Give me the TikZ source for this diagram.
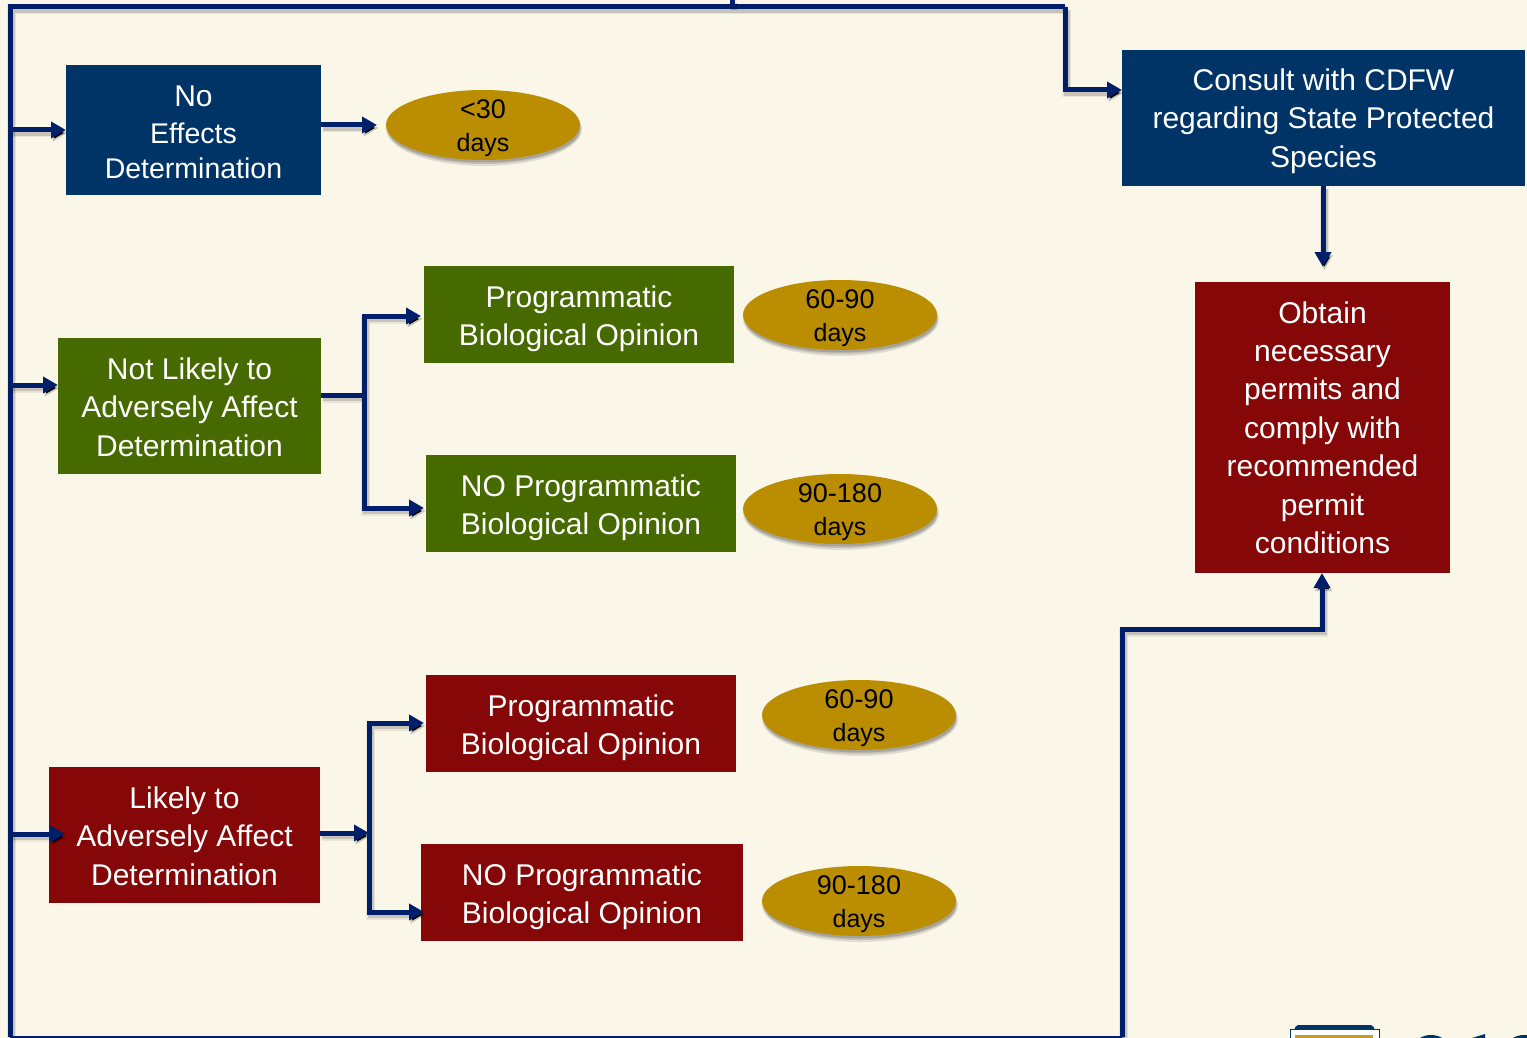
\documentclass[tikz,border=0pt]{standalone}
\usepackage{fontspec}
\setmainfont{Liberation Sans}
\usetikzlibrary{arrows.meta,shapes.geometric}
\definecolor{bgc}{HTML}{FAF6E8}
\definecolor{navyb}{HTML}{003366}
\definecolor{greenb}{HTML}{476A00}
\definecolor{redb}{HTML}{860707}
\definecolor{goldb}{HTML}{BA8E00}
\definecolor{linec}{HTML}{001F6B}
\newcommand{\firstdrop}[1]{\rule{0pt}{#1}}
\newcommand{\ovalbox}[5]{%
  \fill[black,fill opacity=.10] (#2+1,#3+4) ellipse [x radius=98,y radius=37];
  \fill[black,fill opacity=.12] (#2+1,#3+4) ellipse [x radius=97,y radius=35];
  \fill[black,fill opacity=.15] (#2+1,#3+4) ellipse [x radius=96,y radius=33.5];
  \node[oval,label={[ovaltext,yshift=-3.5pt]center:{\fontsize{27}{33}\selectfont #4}\\#5}] (#1) at (#2,#3) {};
}
\tikzset{
  x=1pt,y=-1pt,
  box/.style={rectangle,inner sep=0pt,outer sep=0pt,anchor=north west,text=white,align=center,font=\fontsize{30}{38.4}\selectfont},
  navybox/.style={box,fill=navyb},
  greenbox/.style={box,fill=greenb},
  redbox/.style={box,fill=redb},
  oval/.style={ellipse,fill=goldb,minimum width=194pt,minimum height=70pt,inner sep=0pt},
  ovaltext/.style={inner sep=0pt,align=center,text=black,font=\fontsize{25}{33}\selectfont},
  conn/.style={draw=linec,line width=5pt,line join=miter,
    preaction={draw=black,draw opacity=.07,line width=9pt,transform canvas={xshift=1.5pt,yshift=-3pt}},
    preaction={draw=black,draw opacity=.14,line width=6pt,transform canvas={xshift=1.5pt,yshift=-3pt}}},
  arr/.style={conn,-{Triangle[length=15pt,width=16pt]}},
}
\begin{document}
\begin{tikzpicture}
\useasboundingbox (0,0) rectangle (1527,1038);
\fill[bgc] (0,0) rectangle (1527,1038);
\coordinate (tl) at (10,7);
\coordinate (tm) at (732,7);
\coordinate (tmt) at (732,0);
\coordinate (tr) at (1065,7);
\coordinate (tr2) at (1065,90);
\coordinate (bl) at (10,1037);
\coordinate (br) at (1122,1037);
\coordinate (br2) at (1122,629);
\coordinate (br3) at (1322,629);
\coordinate (tee1) at (10,130);
\coordinate (tee2) at (10,385);
\coordinate (tee3) at (10,834);
\coordinate (tee3e) at (65,834);
\coordinate (b1) at (364,395);
\coordinate (b1a) at (364,316);
\coordinate (b1ae) at (421,316);
\coordinate (b1b) at (364,508);
\coordinate (b1be) at (424,508);
\coordinate (b2) at (369,833);
\coordinate (b2a) at (369,723);
\coordinate (b2ae) at (424,723);
\coordinate (b2b) at (369,912);
\coordinate (b2be) at (424,912);
% connectors
\draw[conn] (bl) -- (tl) -- (tr);
\draw[conn] (tm) -- (tmt);
\draw[conn,line width=3pt] (bl) -- (br);
\node[navybox,minimum width=255pt,minimum height=130pt] (ne) at (66,65) {\firstdrop{25pt}No\\[-1pt]{\fontsize{28.5}{36}\selectfont Effects}\\[-4pt]{\fontsize{28.5}{36}\selectfont Determination}};
\node[greenbox,minimum width=263pt,minimum height=136pt] (nl) at (58,338) {\firstdrop{24pt}Not Likely to\\Adversely Affect\\Determination};
\node[redbox,minimum width=271pt,minimum height=136pt] (ll) at (49,767) {\firstdrop{24pt}Likely to\\Adversely Affect\\Determination};
\node[greenbox,minimum width=310pt,minimum height=97pt] (gp) at (424,266) {\firstdrop{30pt}Programmatic\\Biological Opinion};
\node[greenbox,minimum width=310pt,minimum height=97pt] (gn) at (426,455) {\firstdrop{30pt}NO Programmatic\\Biological Opinion};
\node[redbox,minimum width=310pt,minimum height=97pt] (rp) at (426,675) {\firstdrop{30pt}Programmatic\\Biological Opinion};
\node[redbox,minimum width=322pt,minimum height=97pt] (rn) at (421,844) {\firstdrop{30pt}NO Programmatic\\Biological Opinion};
\node[navybox,minimum width=403pt,minimum height=136pt] (cc) at (1122,50) {\firstdrop{28pt}Consult with CDFW\\regarding State Protected\\Species};
\node[redbox,minimum width=255pt,minimum height=291pt] (ob) at (1195,282) {Obtain\\necessary\\permits and\\comply with\\recommended\\permit\\conditions};
\ovalbox{o1}{483}{125}{<30}{days}
\ovalbox{o2}{840}{315}{60-90}{days}
\ovalbox{o3}{840}{509}{90-180}{days}
\ovalbox{o4}{859}{715}{60-90}{days}
\ovalbox{o5}{859}{901}{90-180}{days}
\coordinate (a1) at (377,125);
\coordinate (a2) at (1323,267);
\draw[arr] (tee1) -- (tee1 -| ne.west);
\draw[arr] (tee2) -- (tee2 -| nl.west);
\draw[arr] (tee3) -- (tee3e);
\draw[arr] (ne.east |- a1) -- (a1);
\draw[arr] (tr) -- (tr2) -- (tr2 -| cc.west);
\draw[arr] (cc.south -| a2) -- (a2);
\draw[conn] (nl.east |- b1) -- (b1);
\draw[arr] (b1) -- (b1a) -- (b1ae);
\draw[arr] (b1) -- (b1b) -- (b1be);
\draw[arr] (ll.east |- b2) -- (b2);
\draw[arr] (b2) -- (b2a) -- (b2ae);
\draw[arr] (b2) -- (b2b) -- (b2be);
\draw[arr] (br) -- (br2) -- (br3) -- (ob.south -| br3);
% logo fragment
\fill[navyb,rounded corners=2pt] (1294,1031) -- (1296,1025) -- (1373,1025) -- (1375,1031) -- cycle;
\fill[white,draw=navyb,line width=1pt] (1290,1029.5) rectangle (1379,1040);
\fill[goldb!85] (1295,1035) rectangle (1373,1039);
% cropped wordmark tops
\fill[navyb] (1431,1046) ellipse [x radius=16,y radius=11];
\fill[navyb] (1472,1038) -- (1485,1034) -- (1485,1038) -- cycle;
\fill[navyb] (1524,1046) ellipse [x radius=16,y radius=11];
\end{tikzpicture}
\end{document}
